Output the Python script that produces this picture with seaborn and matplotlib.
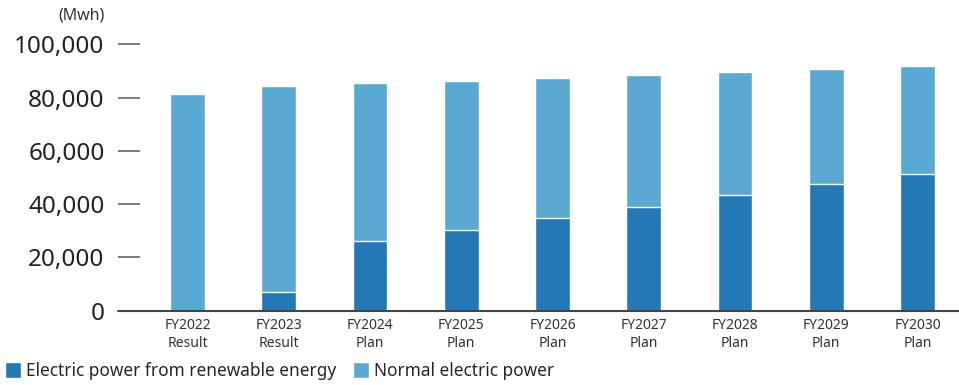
import seaborn as sns
import matplotlib.pyplot as plt
from matplotlib.patches import Patch
from matplotlib.lines import Line2D

# Values (MWh)
years = ['FY2022\nResult', 'FY2023\nResult', 'FY2024\nPlan', 'FY2025\nPlan', 'FY2026\nPlan',
         'FY2027\nPlan', 'FY2028\nPlan', 'FY2029\nPlan', 'FY2030\nPlan']
renewable = [0, 6900, 26200, 30300, 34700, 38900, 43300, 47600, 51200]
total = [81200, 84400, 85400, 86300, 87500, 88600, 89700, 90700, 91900]
y_ticks = [0, 20000, 40000, 60000, 80000, 100000]

dark_blue = '#2478b5'
light_blue = '#59a9d2'

sns.set_style('white')
plt.rcParams['font.family'] = ['Noto Sans', 'DejaVu Sans']

W, H = 959, 385
fig = plt.figure(figsize=(W / 100, H / 100), dpi=100)
ax = fig.add_axes([140 / W, 74.3 / H, (W - 140) / W, 266.4 / H])

# normal power drawn as full total, renewable drawn over its lower part
sns.barplot(x=years, y=total, color=light_blue, width=0.38, saturation=1,
            edgecolor='white', linewidth=1, ax=ax)
sns.barplot(x=years, y=renewable, color=dark_blue, width=0.38, saturation=1,
            edgecolor='white', linewidth=1, ax=ax)

ax.set_xlim(-0.52, 8.455)
ax.set_ylim(0, 100000)
ax.set_yticks(y_ticks)
ax.set_yticklabels([f'{v:,}' for v in y_ticks], fontsize=17.5, color='#222222')
ax.tick_params(axis='y', left=True, direction='out', length=15.5, width=1.2,
               color='#666666', pad=10)
ax.tick_params(axis='x', length=0, pad=5, labelsize=10, colors='#333333')
for lbl in ax.get_xticklabels():
    lbl.set_linespacing(1.3)

for s in ['top', 'right', 'left']:
    ax.spines[s].set_visible(False)
ax.spines['bottom'].set_color('#444444')
ax.spines['bottom'].set_linewidth(1.5)
# extend baseline to the left under the zero tick
fig.add_artist(Line2D([118 / W, 140 / W], [74.3 / H, 74.3 / H], color='#444444', lw=1.5))

fig.text(105 / W, (H - 15) / H, '(Mwh)', ha='right', va='center', fontsize=11.5, color='#333333')

handles = [Patch(facecolor=dark_blue, label='Electric power from renewable energy'),
           Patch(facecolor=light_blue, label='Normal electric power')]
fig.legend(handles=handles, loc='lower left', bbox_to_anchor=(0, 0), ncol=2, frameon=False,
           fontsize=12.4, handlelength=0.9, handleheight=1.0, handletextpad=0.3,
           columnspacing=1.0, borderaxespad=0.1, borderpad=0.2)

fig.savefig('out.png', dpi=100)
